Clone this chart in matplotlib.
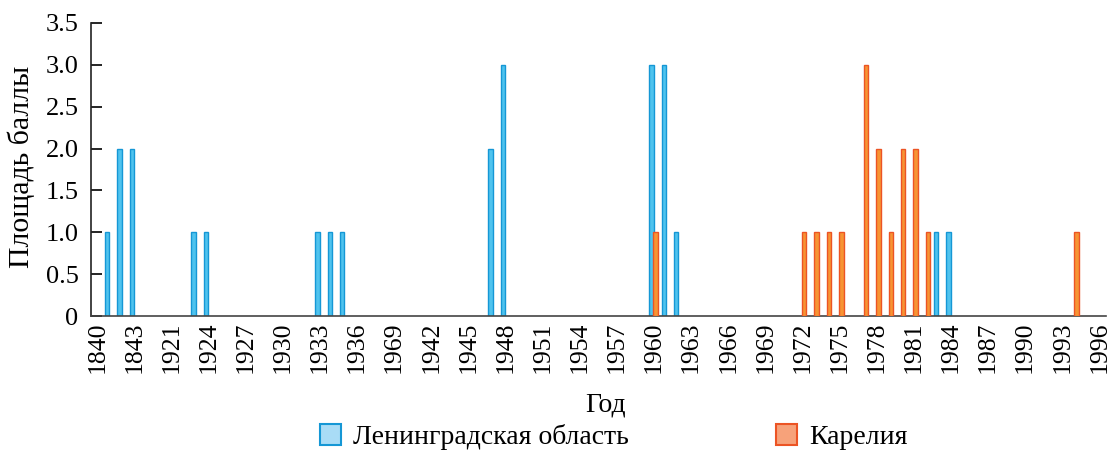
import matplotlib
matplotlib.use("Agg")
import matplotlib.pyplot as plt
from matplotlib.patches import Patch
import numpy as np

# ---- data ----
categories = ["1840", "1841", "1842", "1843", "1844", "1845"] + [str(y) for y in range(1921, 1997)]
tick_labels = ["1840", "1843", "1921", "1924", "1927", "1930", "1933", "1936", "1969",
               "1942", "1945", "1948", "1951", "1954", "1957", "1960", "1963", "1966",
               "1969", "1972", "1975", "1978", "1981", "1984", "1987", "1990", "1993", "1996"]
leningrad_years = ["1841", "1842", "1843", "1923", "1924", "1933", "1934", "1935",
                   "1947", "1948", "1960", "1961", "1962", "1983", "1984"]
leningrad_vals = [1, 2, 2, 1, 1, 1, 1, 1, 2, 3, 3, 3, 1, 1, 1]
karelia_years = ["1960", "1972", "1973", "1974", "1975", "1977", "1978", "1979",
                 "1980", "1981", "1982", "1994"]
karelia_vals = [1, 1, 1, 1, 1, 3, 2, 1, 2, 2, 1, 1]
y_ticks = [0, 0.5, 1.0, 1.5, 2.0, 2.5, 3.0, 3.5]
y_tick_labels = ["0", "0.5", "1.0", "1.5", "2.0", "2.5", "3.0", "3.5"]

plt.rcParams['font.family'] = ['Liberation Serif', 'DejaVu Serif']

blue_face, blue_edge = "#4fc3ee", "#1597d5"
orange_face, orange_edge = "#f79433", "#ec5424"

fig = plt.figure(figsize=(11.10, 4.51), dpi=100)
ax = fig.add_axes([0.082, 0.2993, 0.914, 0.65])

idx = {c: i for i, c in enumerate(categories)}
xb = np.array([idx[y] for y in leningrad_years], dtype=float)
xk = np.array([idx[y] for y in karelia_years], dtype=float)
w = 0.36
ax.bar(xb - 0.2, leningrad_vals, width=w, color=blue_face, edgecolor=blue_edge, linewidth=1.0, zorder=2)
ax.bar(xk + 0.14, karelia_vals, width=w, color=orange_face, edgecolor=orange_edge, linewidth=1.0, zorder=3)

ax.set_xlim(-0.5, len(categories) - 0.5)
ax.set_ylim(0, 3.5)
tick_pos = list(range(0, len(categories), 3))
ax.set_xticks(tick_pos)
ax.set_xticklabels(tick_labels, rotation=90, fontsize=18.5)
ax.tick_params(axis='x', length=0, pad=4)
ax.set_yticks(y_ticks)
ax.set_yticklabels(y_tick_labels, fontsize=19)
ax.tick_params(axis='y', direction='in', length=8, width=1.2, pad=9)

for s in ['top', 'right']:
    ax.spines[s].set_visible(False)
ax.spines['left'].set_linewidth(1.2)
ax.spines['bottom'].set_linewidth(1.2)
ax.spines['left'].set_color('#222222')
ax.spines['bottom'].set_color('#444444')

ax.set_ylabel("Площадь баллы", fontsize=21.5, va='center')
ax.yaxis.set_label_coords(-0.069, 0.51)
ax.set_xlabel("Год", fontsize=20, va='center')
ax.xaxis.set_label_coords(0.507, -0.303)

handles = [Patch(facecolor="#a9dcf6", edgecolor=blue_edge, linewidth=1.5, label="Ленинградская область"),
           Patch(facecolor="#f7a27a", edgecolor=orange_edge, linewidth=1.5, label="Карелия")]
fig.legend(handles=handles, loc='center', bbox_to_anchor=(0.553, 0.031), ncol=2,
           frameon=False, fontsize=20, columnspacing=5.3, handlelength=0.75, handleheight=0.75,
           handletextpad=0.45)

fig.savefig("out.png", dpi=100)
